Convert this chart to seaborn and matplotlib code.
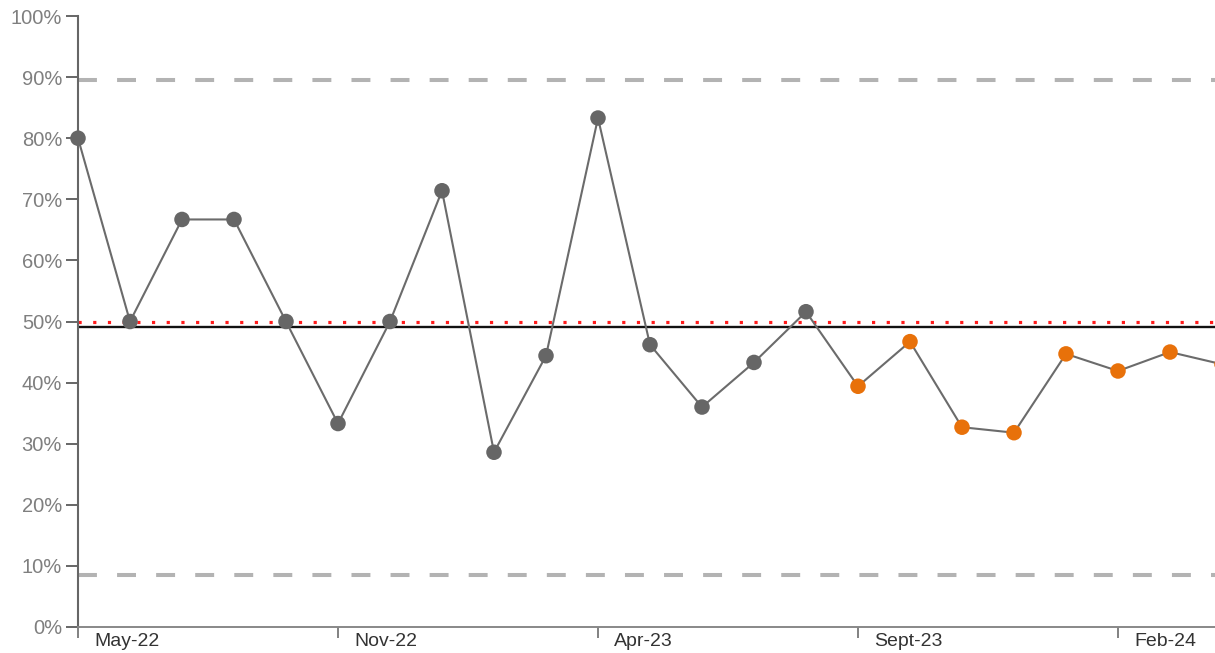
import matplotlib
matplotlib.use("Agg")
import matplotlib.pyplot as plt
from matplotlib.transforms import ScaledTranslation
from matplotlib.ticker import FuncFormatter
import numpy as np
import pandas as pd
import seaborn as sns

# Monthly percentage values (process control chart)
values = [80.0, 50.0, 66.7, 66.7, 50.0, 33.3, 50.0, 71.4, 28.6, 44.4, 83.3,
          46.2, 36.0, 43.3, 51.6, 39.4, 46.7, 32.7, 31.8, 44.7, 41.9, 45.0, 43.0]
# Points flagged as a run below the mean
flagged = [False] * 15 + [True] * 8
tick_labels = ["May-22", "Nov-22", "Apr-23", "Sept-23", "Feb-24"]
tick_step = 5

mean_value = 49.1
target_value = 50.0
upper_limit = 89.5
lower_limit = 8.5

df = pd.DataFrame({
    "idx": np.arange(len(values)),
    "value": values,
    "status": ["special" if f else "common" for f in flagged],
})

sns.set_theme(style="white")
plt.rcParams["font.family"] = ["Liberation Sans", "DejaVu Sans"]

fig = plt.figure(figsize=(12.15, 6.53), dpi=100)
ax = fig.add_axes([78 / 1215, 26 / 653, 1170 / 1215, 611 / 653])

# Control limits, target and mean
ax.axhline(upper_limit, color="#b3b3b3", lw=2.9, dashes=(4.7, 5.0), zorder=1)
ax.axhline(lower_limit, color="#b3b3b3", lw=2.9, dashes=(4.7, 5.0), zorder=1)
ax.axhline(target_value, color="#ff1a1a", lw=2.3, dashes=(1.0, 3.6), zorder=2)
ax.axhline(mean_value, color="#111111", lw=1.7, zorder=2)

sns.lineplot(data=df, x="idx", y="value", color="#6b6b6b", lw=1.5,
             ax=ax, zorder=3, legend=False)
sns.scatterplot(data=df, x="idx", y="value", hue="status",
                palette={"common": "#666666", "special": "#e8710a"},
                s=125, edgecolor="none", ax=ax, zorder=4, legend=False,
                clip_on=False)

ax.set_xlim(0, 22.5)
ax.set_ylim(0, 100)
ax.set_xlabel("")
ax.set_ylabel("")

ax.set_yticks(np.arange(0, 101, 10))
ax.yaxis.set_major_formatter(FuncFormatter(lambda v, _: f"{v:.0f}%"))
ax.tick_params(axis="y", which="major", left=True, length=8.5, width=1.4,
               color="#666666", labelcolor="#7f7f7f", labelsize=14.5, pad=3)

ax.set_xticks(np.arange(0, len(values), tick_step))
ax.set_xticklabels(tick_labels)
ax.tick_params(axis="x", which="major", bottom=True, length=8, width=1.3,
               color="#777777", labelcolor="#333333", labelsize=14, pad=-4)
for lab in ax.get_xticklabels():
    lab.set_horizontalalignment("left")
    lab.set_transform(lab.get_transform() + ScaledTranslation(16 / 100, 0, fig.dpi_scale_trans))

for side in ["top", "right"]:
    ax.spines[side].set_visible(False)
ax.spines["left"].set_color("#666666")
ax.spines["left"].set_linewidth(1.5)
ax.spines["bottom"].set_color("#888888")
ax.spines["bottom"].set_linewidth(1.4)

fig.savefig("out.png", dpi=100)
